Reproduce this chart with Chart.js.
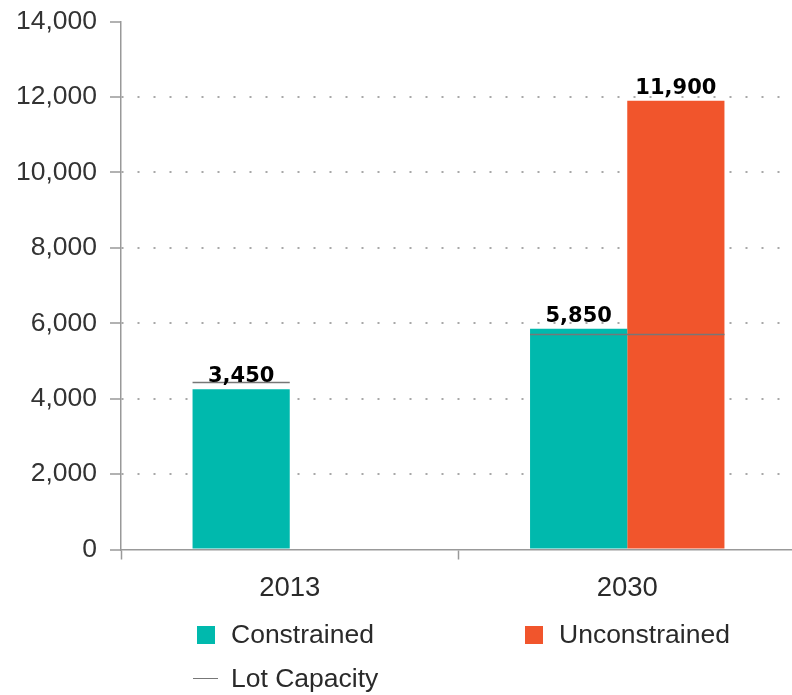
<!DOCTYPE html>
<html>
<head>
<meta charset="utf-8">
<script src="https://cdn.jsdelivr.net/npm/chart.js@4/dist/chart.umd.min.js"></script>
<style>
  body { margin: 0; overflow: hidden; background: #fff; }
  #wrap { position: relative; width: 796px; height: 695px; }
  .legend { position: absolute; font-family: "Liberation Sans", Arial, sans-serif; font-size: 26.5px; color: #2a2a2a; line-height: 1; }
  .sw { position: absolute; width: 18px; height: 18px; }
  .ln { position: absolute; width: 25px; height: 0; border-top: 1.5px solid #777; }
</style>
</head>
<body>
<div id="wrap">
  <canvas id="lotChart"></canvas>
  <div class="sw" style="left:197px;top:626px;background:#00b9ad"></div>
  <div class="legend" style="left:231px;top:621px">Constrained</div>
  <div class="sw" style="left:525px;top:626px;background:#f1552c"></div>
  <div class="legend" style="left:559px;top:621px">Unconstrained</div>
  <div class="ln" style="left:193px;top:678px"></div>
  <div class="legend" style="left:231px;top:665px">Lot Capacity</div>
</div>
<script>
const years = ["2013", "2030"];
const constrained = [4250, 5850];
const unconstrained = [null, 11900];
const lotCapacity = [4450, 5725];
// labels printed on the bars (as shown in the source)
const constrainedLabels = [3450, 5850];
const unconstrainedLabels = [null, 11900];

const ctx = document.getElementById("lotChart").getContext("2d");

const barExtras = {
  id: "barExtras",
  afterDatasetsDraw(chart) {
    const c = chart.ctx;
    const y = chart.scales.y;
    const metas = [chart.getDatasetMeta(0), chart.getDatasetMeta(1)];
    const sets = [constrained, unconstrained];

    // lot capacity lines across the bars of each year
    c.save();
    c.strokeStyle = "#777";
    c.lineWidth = 1.5;
    years.forEach((yr, i) => {
      let left = Infinity, right = -Infinity;
      metas.forEach((m, k) => {
        if (sets[k][i] == null) return;
        const b = m.data[i];
        left = Math.min(left, b.x - b.width / 2);
        right = Math.max(right, b.x + b.width / 2);
      });
      const py = Math.round(y.getPixelForValue(lotCapacity[i])) + 0.5;
      c.beginPath();
      c.moveTo(left, py);
      c.lineTo(right, py);
      c.stroke();
    });

    // value labels
    c.font = "bold 21px 'DejaVu Sans'";
    c.fillStyle = "#000";
    c.textAlign = "center";
    c.textBaseline = "alphabetic";
    [constrainedLabels, unconstrainedLabels].forEach((lbls, k) => {
      lbls.forEach((v, i) => {
        if (v == null) return;
        const b = metas[k].data[i];
        c.fillText(v.toLocaleString("en-US"), b.x, b.y - 7);
      });
    });
    c.restore();
  },
};

new Chart(ctx, {
  type: "bar",
  data: {
    labels: years,
    datasets: [
      { label: "Constrained", data: constrained, backgroundColor: "#00b9ad" },
      { label: "Unconstrained", data: unconstrained, backgroundColor: "#f1552c" },
    ],
  },
  options: {
    responsive: true,
    maintainAspectRatio: false,
    animation: false,
    categoryPercentage: 0.576,
    barPercentage: 1.0,
    layout: { padding: { top: 21.5, right: 0, bottom: 85.5, left: 0 } },
    plugins: { legend: { display: false }, tooltip: { enabled: false } },
    scales: {
      x: {
        afterFit: (s) => { s.height = 60; s.paddingLeft = 0; s.paddingRight = 0; },
        grid: { offset: true, drawOnChartArea: false, tickLength: 10, tickColor: "#999", tickWidth: 1.5 },
        border: { color: "#999", width: 1.5 },
        ticks: { color: "#2a2a2a", padding: 12, font: { family: "'Liberation Sans'", size: 27.5 } },
      },
      y: {
        min: 0,
        max: 14000,
        afterFit: (s) => { s.width = 121; s.paddingTop = 0; s.paddingBottom = 0; },
        grid: {
          color: (c) => (c.index === 0 || c.tick.value === 14000 ? "rgba(0,0,0,0)" : "#a8a8a8"),
          lineWidth: 2,
          tickBorderDash: [],
          tickColor: "#999",
          tickWidth: 1.5,
          tickLength: 11,
        },
        border: { color: "#999", width: 1.5, dash: [2, 14] },
        ticks: {
          stepSize: 2000,
          color: "#333",
          padding: 13,
          font: { family: "'Liberation Sans'", size: 26.5 },
          callback: (v) => v.toLocaleString("en-US"),
        },
      },
    },
  },
  plugins: [barExtras],
});
</script>
</body>
</html>
